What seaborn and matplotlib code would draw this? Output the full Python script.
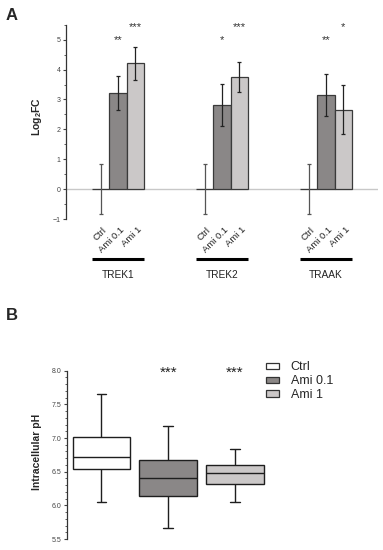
import numpy as np
import pandas as pd
import matplotlib
matplotlib.use("Agg")
import matplotlib.pyplot as plt
from matplotlib.patches import Patch
from matplotlib.ticker import MultipleLocator
import seaborn as sns

# ---------------- data ----------------
genes = ["TREK1", "TREK2", "TRAAK"]
conditions = ["Ctrl", "Ami 0.1", "Ami 1"]
log2fc_ctrl = [0.0, 0.0, 0.0]
log2fc_ami01 = [3.22, 2.82, 3.16]
log2fc_ami1 = [4.21, 3.75, 2.66]
err_ctrl = [0.84, 0.83, 0.84]
err_ami01 = [0.56, 0.71, 0.71]
err_ami1 = [0.56, 0.49, 0.81]
stars_ami01 = ["**", "*", "**"]
stars_ami1 = ["***", "***", "*"]

ph_groups = ["Ctrl", "Ami 0.1", "Ami 1"]
ph_min = [6.05, 5.67, 6.05]
ph_q1 = [6.54, 6.14, 6.32]
ph_median = [6.72, 6.40, 6.48]
ph_q3 = [7.01, 6.68, 6.60]
ph_max = [7.66, 7.18, 6.84]
ph_stars = ["", "***", "***"]

# ---------------- style ----------------
sns.set_theme(style="ticks")
plt.rcParams["font.family"] = ["Liberation Sans", "DejaVu Sans"]
plt.rcParams["mathtext.fontset"] = "custom"
plt.rcParams["mathtext.rm"] = "Liberation Sans"
plt.rcParams["mathtext.bf"] = "Liberation Sans:bold"

colors = {"Ctrl": "#ffffff", "Ami 0.1": "#8b8786", "Ami 1": "#cbc7c7"}
tick_col = "#444444"

fig = plt.figure(figsize=(3.83, 5.5), dpi=100)

# ---------------- panel A ----------------
axA = fig.add_axes([0.1723, 0.6018, 0.815, 0.3531])
rows = []
for i, g in enumerate(genes):
    rows.append((g, "Ctrl", log2fc_ctrl[i], err_ctrl[i]))
    rows.append((g, "Ami 0.1", log2fc_ami01[i], err_ami01[i]))
    rows.append((g, "Ami 1", log2fc_ami1[i], err_ami1[i]))
dfA = pd.DataFrame(rows, columns=["gene", "cond", "val", "err"])

axA.axhline(0, color="#c8c8c8", lw=1.0, zorder=0)
sns.barplot(data=dfA, x="gene", y="val", hue="cond", hue_order=conditions,
            order=genes, palette=colors, width=0.5, errorbar=None,
            edgecolor="#3a3a3a", linewidth=0.9, legend=False, ax=axA, zorder=2)

bars = sorted(axA.patches, key=lambda p: p.get_x())
centers = [p.get_x() + p.get_width() / 2 for p in bars]
errs = list(dfA["err"])
vals = list(dfA["val"])
for k, (cx, v, e) in enumerate(zip(centers, vals, errs)):
    col = "#555555" if k % 3 == 0 else "#222222"
    axA.errorbar(cx, v, yerr=e, fmt="none", ecolor=col, elinewidth=0.9,
                 capsize=1.6, capthick=0.9, zorder=3)

axA.set_xlim(-0.5, 2.5)
axA.set_ylim(-1, 5.5)
axA.yaxis.set_major_locator(MultipleLocator(1))
axA.yaxis.set_minor_locator(MultipleLocator(0.5))
axA.tick_params(axis="y", which="major", length=2.5, width=0.8, labelsize=5,
                colors=tick_col, pad=1.5)
axA.tick_params(axis="y", which="minor", length=1.5, width=0.6, colors=tick_col)
axA.set_yticks([-1, 0, 1, 2, 3, 4, 5])
axA.set_xticks([])
axA.set_xlabel("")
axA.set_ylabel(r"$\mathbf{Log_2FC}$", fontsize=7.5)
axA.yaxis.set_label_coords(-0.072, 0.53)
for s in ["top", "right", "bottom"]:
    axA.spines[s].set_visible(False)
axA.spines["left"].set_color("#333333")
axA.spines["left"].set_linewidth(0.9)

trA = axA.get_xaxis_transform()
for k, cx in enumerate(centers):
    axA.text(cx + 0.015, -0.032, conditions[k % 3], rotation=45,
             ha="right", va="top", rotation_mode="anchor", fontsize=6.8,
             color="#222222", transform=trA)
for i, g in enumerate(genes):
    left = bars[3 * i].get_x()
    right = bars[3 * i + 2].get_x() + bars[3 * i + 2].get_width()
    axA.plot([left, right], [-0.207, -0.207], color="black", lw=2.2,
             transform=trA, clip_on=False, solid_capstyle="butt")
    axA.text((left + right) / 2, -0.288, g, ha="center", va="center",
             fontsize=7.3, color="#222222", transform=trA)
    axA.text(centers[3 * i + 1], 5.0, stars_ami01[i], ha="center",
             va="center", fontsize=8, color="#333333")
    axA.text(centers[3 * i + 2], 5.42, stars_ami1[i], ha="center",
             va="center", fontsize=8, color="#333333")

fig.text(0.015, 0.971, "A", fontsize=12, fontweight="bold", va="center")

# ---------------- panel B ----------------
axB = fig.add_axes([0.175, 0.02, 0.63, 0.306])
recs = []
for i, g in enumerate(ph_groups):
    for v in (ph_min[i], ph_q1[i], ph_median[i], ph_q3[i], ph_max[i]):
        recs.append((g, v))
dfB = pd.DataFrame(recs, columns=["group", "pH"])
sns.boxplot(data=dfB, x="group", y="pH", hue="group", order=ph_groups,
            hue_order=ph_groups, palette=colors, whis=(0, 100), width=0.86,
            linewidth=1.0, linecolor="#1e1e1e", legend=False, ax=axB,
            capwidths=0.14, dodge=False)

axB.set_xlim(-0.515, 3.1)
axB.set_ylim(5.5, 8.0)
axB.yaxis.set_major_locator(MultipleLocator(0.5))
axB.yaxis.set_minor_locator(MultipleLocator(0.1))
axB.yaxis.set_major_formatter(matplotlib.ticker.FormatStrFormatter("%.1f"))
axB.tick_params(axis="y", which="major", length=2.5, width=0.8, labelsize=5,
                colors=tick_col, pad=1.5)
axB.tick_params(axis="y", which="minor", length=1.5, width=0.6, colors=tick_col)
axB.set_xticks([])
axB.set_xlabel("")
axB.set_ylabel("Intracellular pH", fontsize=7.5, fontweight="bold")
axB.yaxis.set_label_coords(-0.105, 0.52)
for s in ["top", "right", "bottom"]:
    axB.spines[s].set_visible(False)
axB.spines["left"].set_color("#333333")
axB.spines["left"].set_linewidth(0.9)
for i, s in enumerate(ph_stars):
    if s:
        axB.text(i, 7.97, s, ha="center", va="center", fontsize=11,
                 color="#222222")

handles = [Patch(facecolor=colors[g], edgecolor="#333333", linewidth=0.9,
                 label=g) for g in ph_groups]
fig.legend(handles=handles, loc="upper left", bbox_to_anchor=(0.695, 0.343),
           frameon=False, fontsize=9, handlelength=1.05, handleheight=0.4,
           handletextpad=0.9, labelspacing=0.15, borderpad=0,
           borderaxespad=0)

fig.text(0.015, 0.4255, "B", fontsize=12, fontweight="bold", va="center")

fig.savefig("out.png", dpi=100)
